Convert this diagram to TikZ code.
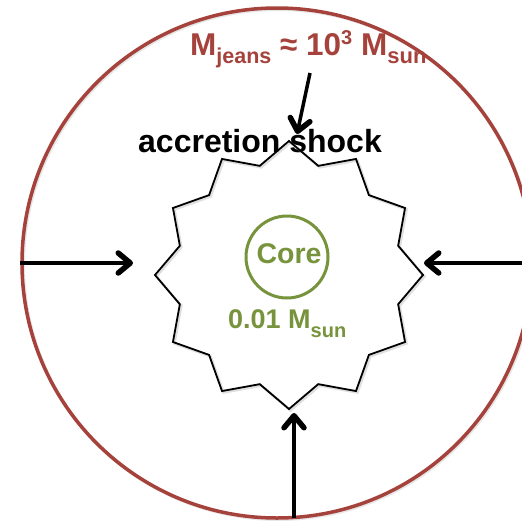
\documentclass[tikz,border=0pt]{standalone}
\usepackage{fontspec}
\setmainfont{Liberation Sans}
\usetikzlibrary{arrows.meta}
\definecolor{cloudred}{RGB}{166,66,60}
\definecolor{coregreen}{RGB}{119,147,60}
\newcommand\fsz[1]{\fontsize{#1}{#1}\selectfont}
% lowered / raised text: offset, size, text
\newcommand\lowtxt[3]{\raisebox{-#1pt}{\fsz{#2}#3}}
\newcommand\hightxt[3]{\raisebox{#1pt}{\fsz{#2}#3}}
\begin{document}
\begin{tikzpicture}[x=1pt,y=-1pt,
  cloud/.style={circle,draw=cloudred,line width=3.5,minimum size=510,inner sep=0},
  corering/.style={circle,draw=coregreen,line width=3,minimum size=82,inner sep=0},
  shockline/.style={draw=black,line width=1.8,line join=miter},
  shadowline/.style={draw=black!35,line width=2.5,opacity=0.35},
  inflow/.style={line width=3.5,-{Straight Barb[length=12pt,width=20pt,line width=5.5pt,round]}},
  label/.style={inner sep=0,font=\bfseries},
]
\clip (0,0) rectangle (522,525);
\fill[white] (0,0) rectangle (522,525);

% collapsing cloud
\draw[draw=black!30,line width=3,opacity=0.3] (278.5,264.5) circle[radius=255];
\node[cloud] (cloud) at (277,263) {};

% labels
\node[label,anchor=base west,text=cloudred,font=\bfseries\fsz{31.5}] (jeans) at (190,55)
  {M\lowtxt{8}{21.5}{jeans} ≈ 10\hightxt{11}{20}{3} M\lowtxt{8}{22}{sun}};
\node[label,anchor=base west,font=\bfseries\fsz{32}] (shocktext) at (138,152) {accretion shock};

% accretion shock front (12-pointed star)
\coordinate (shock) at (289,275);
\draw[shadowline] plot[samples at={0,...,23}]
  ({290.5+(134-21*mod(\x,2))*cos(90+15*\x)},{276.5-(134-21*mod(\x,2))*sin(90+15*\x)}) -- cycle;
\draw[shockline] plot[samples at={0,...,23}]
  ({289+(134-21*mod(\x,2))*cos(90+15*\x)},{275-(134-21*mod(\x,2))*sin(90+15*\x)}) -- cycle;

% core
\node[corering] (core) at (287,257) {};
\node[label,anchor=base,text=coregreen,font=\bfseries\fsz{28.5}] (coretext) at (289,263) {Core};
\node[label,anchor=base west,text=coregreen,font=\bfseries\fsz{27}] (coremass) at (228,328)
  {0.01 M\lowtxt{9}{20}{sun}};

% inflow arrows
\coordinate (lefthead) at (133,263);
\coordinate (righthead) at (424,263);
\coordinate (bottomtail) at (294,518);
\coordinate (bottomhead) at (294,413);
\coordinate (toptail) at (310,73);
\coordinate (tophead) at (297,134);
\draw[inflow] (cloud.west) -- (lefthead);
\draw[inflow] (cloud.east) -- (righthead);
\draw[inflow] (bottomtail) -- (bottomhead);
\draw[inflow] (toptail) -- (tophead);
\end{tikzpicture}
\end{document}
